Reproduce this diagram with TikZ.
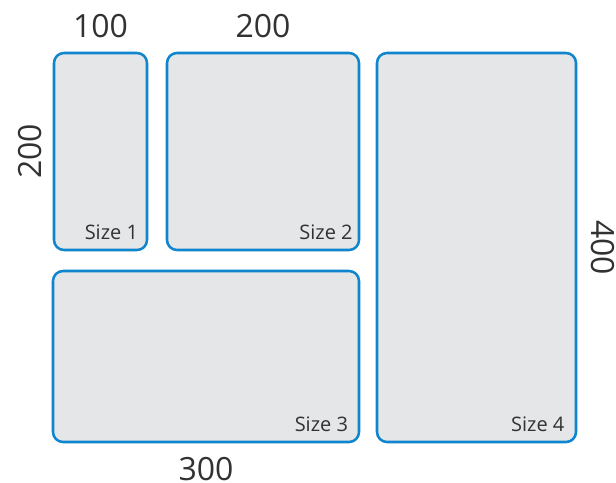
\documentclass[tikz,border=0pt]{standalone}
\usepackage{fontspec}
\setmainfont{Open Sans}
\usetikzlibrary{positioning}
\definecolor{boxblue}{RGB}{14,133,205}
\definecolor{boxgray}{RGB}{229,230,232}
\definecolor{textgray}{RGB}{50,50,50}
\begin{document}
\begin{tikzpicture}
		    [%%%%%%%%%%%%%%%%%%%%%%%%%%%%%%
		        x=0.75pt, y=-0.75pt,
		        box/.style={rectangle, rounded corners=7.5pt, draw=boxblue, fill=boxgray, line width=1.9pt, inner sep=0pt},
		        sizelbl/.style={font=\fontsize{15}{18}\selectfont, text=textgray, inner sep=0pt, anchor=base east},
		        dimlbl/.style={font=\fontsize{24}{28}\selectfont, text=textgray, inner sep=0pt},
		    ]%%%%%%%%%%%%%%%%%%%%%%%%%%%%%%
		\useasboundingbox (0,0) rectangle (616,482);

		\node[box, minimum width=69.75pt, minimum height=147.75pt] (size1) at (100.5,151.5) {};
		\node[box, minimum width=144pt, minimum height=147.75pt] (size2) at (263,151.5) {};
		\node[box, minimum width=229.5pt, minimum height=128.25pt] (size3) at (206,356.5) {};
		\node[box, minimum width=149.25pt, minimum height=291.75pt] (size4) at (476.5,247.5) {};

		\node[sizelbl] (lbl1) at ([shift={(-7.5pt,9pt)}]size1.south east) {Size 1};
		\node[sizelbl] (lbl2) at ([shift={(-5.5pt,9pt)}]size2.south east) {Size 2};
		\node[sizelbl] (lbl3) at ([shift={(-9pt,9pt)}]size3.south east) {Size 3};
		\node[sizelbl] (lbl4) at ([shift={(-9.5pt,8.5pt)}]size4.south east) {Size 4};

		\node[dimlbl, above=10.5pt of size1] (w1) {100};
		\node[dimlbl, above=10.5pt of size2] (w2) {200};
		\node[dimlbl, below=10pt of size3] (w3) {300};
		\node[dimlbl, rotate=90, anchor=south] (h1) at ([xshift=-8pt]size1.west) {200};
		\node[dimlbl, rotate=-90, anchor=south] (h4) at ([xshift=10.5pt]size4.east) {400};

		\end{tikzpicture}
\end{document}
